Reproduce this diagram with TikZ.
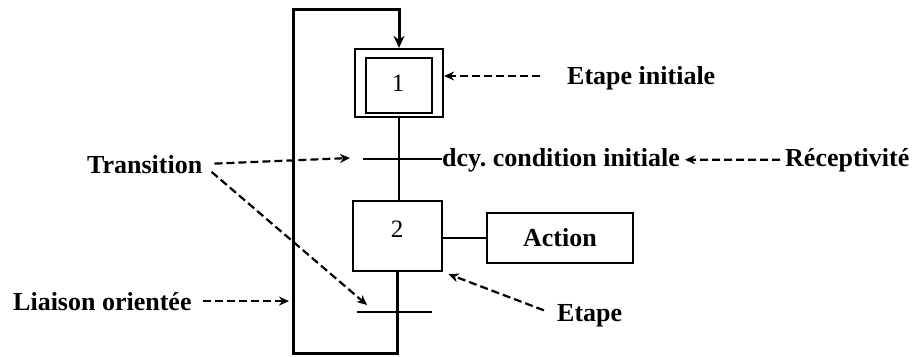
\documentclass[tikz,border=0pt]{standalone}
\usepackage{fontspec}
\setmainfont{Liberation Serif}
\usetikzlibrary{arrows.meta}
\frenchspacing
\begin{document}
\begin{tikzpicture}[x=1pt,y=-1pt,
 lab/.style={font=\fontsize{26}{30}\selectfont\bfseries, inner sep=0pt, anchor=base west},
 num/.style={font=\fontsize{25}{30}\selectfont, inner sep=0pt, anchor=base},
 box/.style={draw, line width=2.2pt, inner sep=0pt},
 ln/.style={line width=2.2pt},
 loopln/.style={line width=3pt, line join=miter},
 dasharrow/.style={line width=2.2pt, dash pattern=on 8pt off 4pt, -{Stealth[length=10pt,width=9pt]}},
]
\useasboundingbox (0,0) rectangle (912,356);
% steps
\node[box, minimum width=88pt, minimum height=68pt] (s1) at (399,83) {};
\node[box, minimum width=66pt, minimum height=55pt] (s1i) at (399,85.5) {};
\node[num] (n1) at (398,91) {1};
\node[box, minimum width=89pt, minimum height=70pt] (s2) at (397.5,236) {};
\node[num] (n2) at (397,237) {2};
\node[box, minimum width=146pt, minimum height=50pt, font=\fontsize{26}{30}\selectfont\bfseries] (act) at (560,238) {Action};
\draw[ln] (s2.east |- act.west) -- (act.west);
% transitions
\coordinate (t1a) at (363,159);
\node[lab] (dcy) at (442,166) {dcy. condition initiale};
\draw[ln] (t1a) -- (t1a -| dcy.west);
\coordinate (t2a) at (357,312);
\coordinate (t2b) at (432,312);
\draw[ln] (t2a) -- (t2b);
\draw[ln] (s1.south) -- (s1.south |- s2.north);
% loop
\coordinate (lb) at (396,353);
\coordinate (lt) at (293,9);
\draw[loopln, -{Stealth[length=12pt,width=11pt]}] (s2.south) -- (s2.south |- lb) -| (lt) -| (s1.north);
% labels
\node[lab] (ei) at (567,84) {Etape initiale};
\coordinate (ei0) at (540,76);
\draw[dasharrow] (ei0) -- (ei0 -| s1.east);
\node[lab] (rec) at (785,166) {Réceptivité};
\draw[dasharrow, shorten <=5pt, shorten >=5pt] (rec.west) -- (dcy.east);
\node[lab] (tr) at (87,173) {Transition};
\coordinate (tr1) at (350,158);
\coordinate (tr2) at (367,305);
\draw[dasharrow, shorten <=12pt] (tr.east) -- (tr1);
\draw[dasharrow, shorten <=12pt] (tr.east) -- (tr2);
\node[lab] (li) at (13,310) {Liaison orientée};
\draw[dasharrow, shorten <=11pt, shorten >=4pt] (li.east) -- (li.east -| lt);
\node[lab] (et) at (557,321) {Etape};
\draw[dasharrow, shorten <=14pt, shorten >=6pt] (et.west) -- (s2.south east);
\end{tikzpicture}
\end{document}
